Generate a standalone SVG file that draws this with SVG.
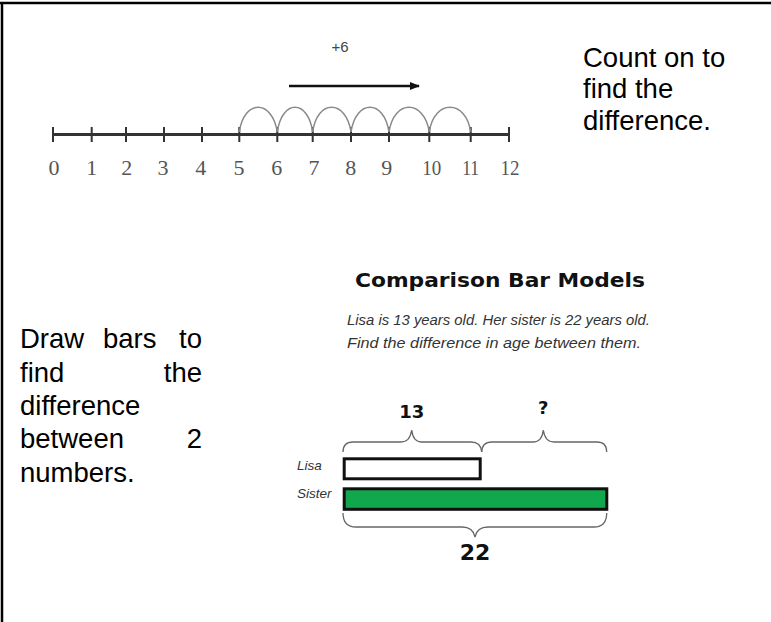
<svg xmlns="http://www.w3.org/2000/svg" width="771" height="622" viewBox="0 0 771 622">
<style>
.txt{font-family:"Liberation Sans",Arial,sans-serif;font-size:27.5px;fill:#000}
.num{font-family:"Liberation Serif","Times New Roman",serif;font-size:22px;fill:#555;text-anchor:middle}
.tick{stroke:#333;stroke-width:2}
.arc{fill:none;stroke:#8a8a8a;stroke-width:1.5}
.brace{fill:none;stroke:#666;stroke-width:1.3}
.it{font-family:"Liberation Sans",Arial,sans-serif;font-style:italic;fill:#333}
.lbl{font-family:"DejaVu Sans","Liberation Sans",sans-serif;font-weight:bold;fill:#111;text-anchor:middle}
</style>
<defs>
<marker id="ah" markerWidth="10" markerHeight="8" refX="9" refY="4" orient="auto" markerUnits="userSpaceOnUse">
<path d="M0,0 L10,4 L0,8 Z" fill="#111"/>
</marker>
</defs>
<rect width="771" height="622" fill="#fff"/>
<g id="frame">
<line x1="0" y1="3" x2="771" y2="3" stroke="#000" stroke-width="2.5"/>
<line x1="2" y1="2" x2="2" y2="622" stroke="#000" stroke-width="2.5"/>
</g>
<g id="number-line">
<line x1="52" y1="134.5" x2="509" y2="134.5" stroke="#333" stroke-width="3"/>
<g class="tick">
<line x1="53" y1="127" x2="53" y2="142"/>
<line x1="91.7" y1="127" x2="91.7" y2="142"/>
<line x1="126" y1="127" x2="126" y2="142"/>
<line x1="164" y1="127" x2="164" y2="142"/>
<line x1="202" y1="127" x2="202" y2="142"/>
<line x1="239.3" y1="127" x2="239.3" y2="142"/>
<line x1="277.3" y1="127" x2="277.3" y2="142"/>
<line x1="312.7" y1="127" x2="312.7" y2="142"/>
<line x1="351" y1="127" x2="351" y2="142"/>
<line x1="389" y1="127" x2="389" y2="142"/>
<line x1="429.3" y1="127" x2="429.3" y2="142"/>
<line x1="470.7" y1="127" x2="470.7" y2="142"/>
<line x1="509" y1="127" x2="509" y2="142"/>
</g>
<g>
<text class="num" x="54" y="175">0</text>
<text class="num" x="91.7" y="175">1</text>
<text class="num" x="126.7" y="175">2</text>
<text class="num" x="163" y="175">3</text>
<text class="num" x="200.7" y="175">4</text>
<text class="num" x="239" y="175">5</text>
<text class="num" x="276.7" y="175">6</text>
<text class="num" x="314" y="175">7</text>
<text class="num" x="350.7" y="175">8</text>
<text class="num" x="386.7" y="175">9</text>
<text class="num" x="431.7" y="175" textLength="19" lengthAdjust="spacingAndGlyphs">10</text>
<text class="num" x="470.7" y="175" textLength="17" lengthAdjust="spacingAndGlyphs">11</text>
<text class="num" x="510" y="175" textLength="19" lengthAdjust="spacingAndGlyphs">12</text>
</g>
</g>
<g id="jumps">
<path class="arc" d="M239.3,132 C244,99 272,99 277.3,132"/>
<path class="arc" d="M277.3,132 C282,99 308,99 312.7,132"/>
<path class="arc" d="M312.7,132 C317,99 346,99 351,132"/>
<path class="arc" d="M351,132 C356,99 384,99 389,132"/>
<path class="arc" d="M389,132 C394,99 424,99 429.3,132"/>
<path class="arc" d="M429.3,132 C434,99 466,99 470.7,132"/>
</g>
<g id="plus6">
<text x="340" y="52" font-family="Liberation Sans,sans-serif" font-size="15" fill="#444" text-anchor="middle">+6</text>
<line x1="289" y1="86" x2="419" y2="86" stroke="#111" stroke-width="2.5" marker-end="url(#ah)"/>
</g>
<g id="count-on-text">
<text class="txt" x="583" y="66.7">Count on to</text>
<text class="txt" x="583" y="98.3">find the</text>
<text class="txt" x="583" y="130">difference.</text>
</g>
<g id="draw-bars-text">
<text class="txt" x="20" y="348.3">Draw</text>
<text class="txt" x="103" y="348.3">bars</text>
<text class="txt" x="202" y="348.3" text-anchor="end">to</text>
<text class="txt" x="20" y="381.6">find</text>
<text class="txt" x="202" y="381.6" text-anchor="end">the</text>
<text class="txt" x="20" y="414.9">difference</text>
<text class="txt" x="20" y="448.2">between</text>
<text class="txt" x="202" y="448.2" text-anchor="end">2</text>
<text class="txt" x="20" y="481.5">numbers.</text>
</g>
<g id="bar-model">
<text x="500" y="287" font-family="DejaVu Sans,Liberation Sans,sans-serif" font-weight="bold" font-size="19" fill="#111" text-anchor="middle" textLength="290" lengthAdjust="spacingAndGlyphs">Comparison Bar Models</text>
<text class="it" x="347" y="325" font-size="15" textLength="303" lengthAdjust="spacingAndGlyphs">Lisa is 13 years old. Her sister is 22 years old.</text>
<text class="it" x="347" y="348" font-size="15" textLength="294" lengthAdjust="spacingAndGlyphs">Find the difference in age between them.</text>
<text class="lbl" x="411.7" y="418" font-size="18">13</text>
<text class="lbl" x="543.3" y="414" font-size="18">?</text>
<path class="brace" d="M343,452 Q343,442 353,442 L401,442 Q410,442 411.7,430 Q413,442 422,442 L471,442 Q481,442 481.7,452"/>
<path class="brace" d="M481.7,452 Q482,442 492,442 L533,442 Q542,442 543.3,430 Q545,442 554,442 L597,442 Q606.7,442 606.7,452"/>
<text class="it" x="297" y="470" font-size="13.5">Lisa</text>
<text class="it" x="297" y="498" font-size="13.5">Sister</text>
<rect x="344.2" y="458.8" width="136" height="20" fill="#fff" stroke="#111" stroke-width="3"/>
<rect x="344.2" y="488.8" width="262.6" height="20.5" fill="#11a84d" stroke="#111" stroke-width="3"/>
<path class="brace" d="M343,513 Q343,527 356,527 L462,527 Q473,527 475,537 Q477,527 488,527 L594,527 Q606.7,527 606.7,513"/>
<text class="lbl" x="475" y="560" font-size="22">22</text>
</g>
</svg>
